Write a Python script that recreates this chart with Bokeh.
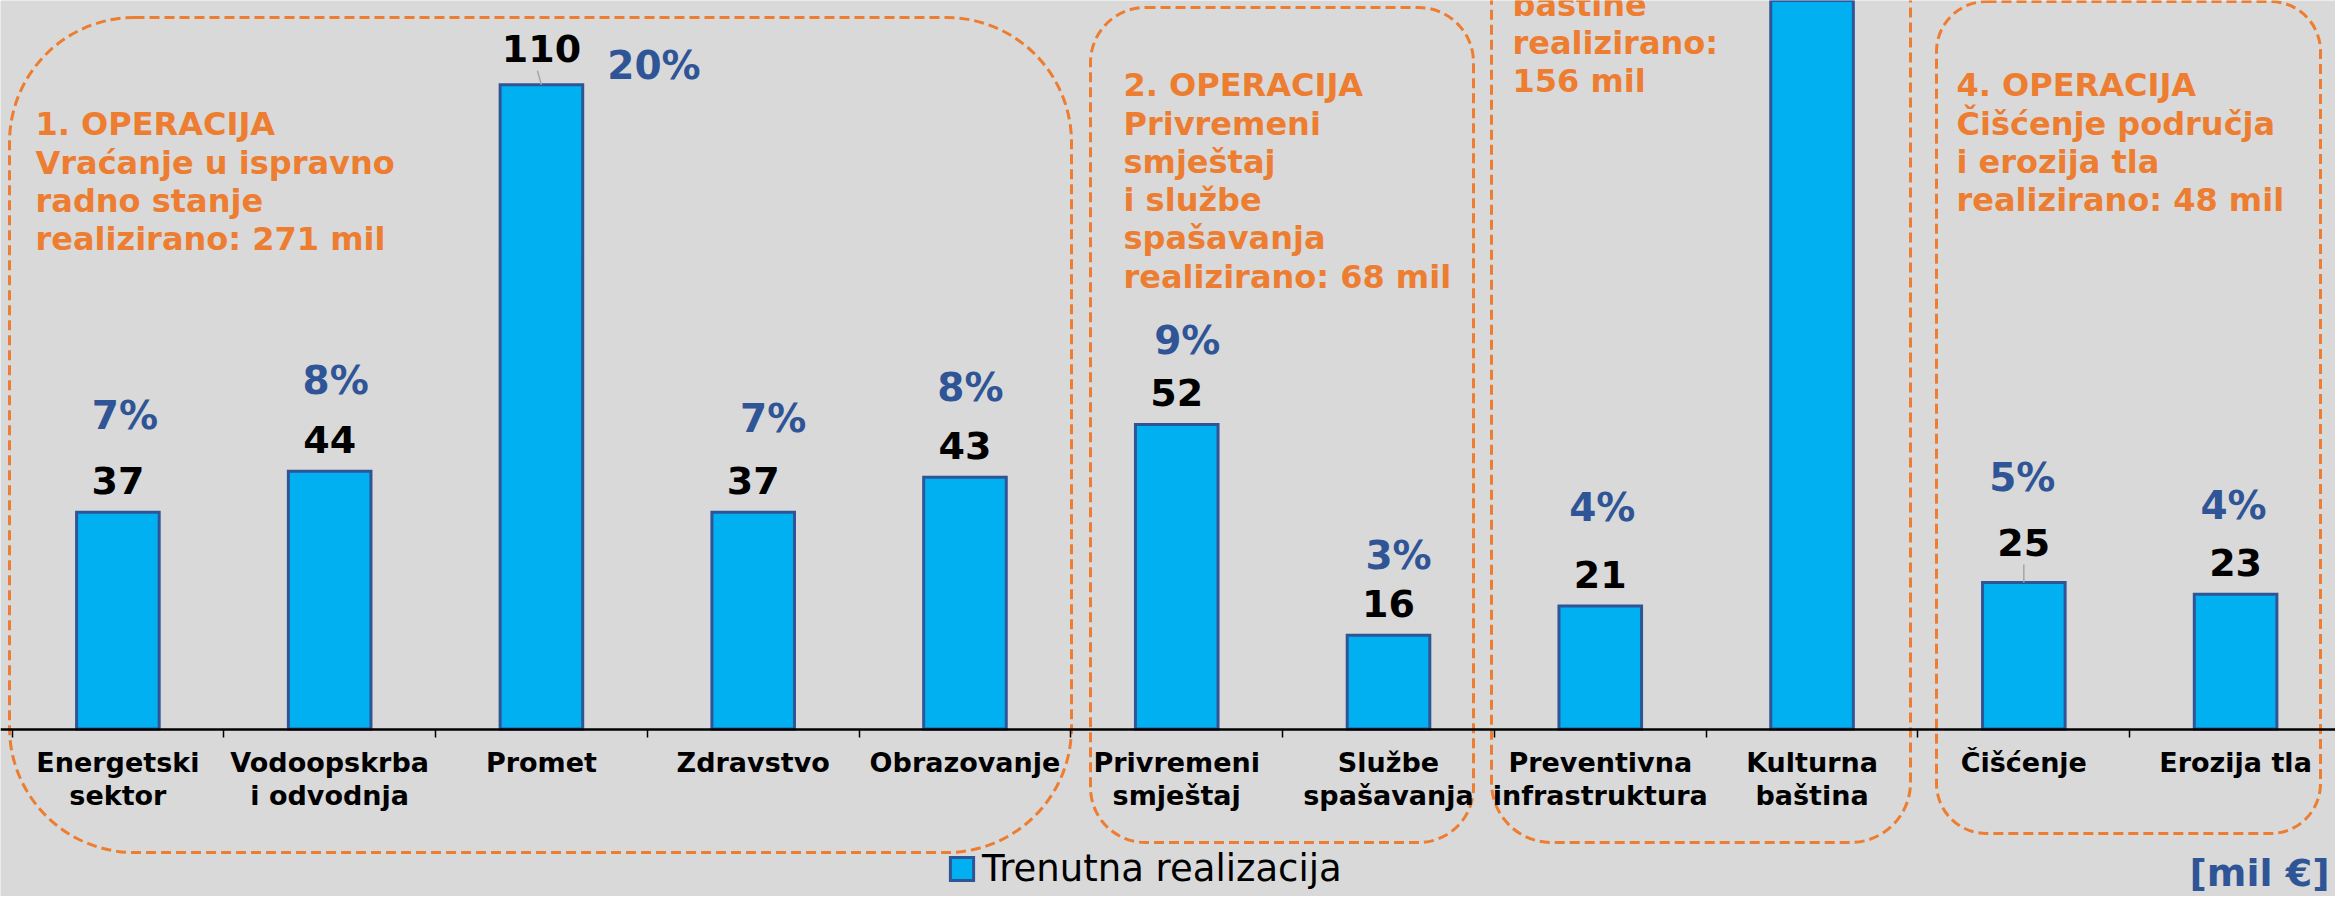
from bokeh.plotting import figure
from bokeh.models import (Range1d, LinearAxis, FixedTicker, BoxAnnotation, ColumnDataSource,
                          Legend, LegendItem, Label)
from bokeh.core.properties import value
from bokeh.embed import file_html
from bokeh.resources import INLINE

# ---------------- data ----------------
categories = ["Energetski\nsektor", "Vodoopskrba\ni odvodnja", "Promet", "Zdravstvo", "Obrazovanje",
              "Privremeni\nsmještaj", "Službe\nspašavanja", "Preventivna\ninfrastruktura",
              "Kulturna\nbaština", "Čišćenje", "Erozija tla"]
values = [37, 44, 110, 37, 43, 52, 16, 21, 135, 25, 23]
shares = ["7%", "8%", "20%", "7%", "8%", "9%", "3%", "4%", "25%", "5%", "4%"]
series_name = "Trenutna realizacija"
unit_label = "[mil €]"
group_notes = [
    ["1. OPERACIJA", "Vraćanje u ispravno", "radno stanje", "realizirano: 271 mil"],
    ["2. OPERACIJA", "Privremeni", "smještaj", "i službe", "spašavanja", "realizirano: 68 mil"],
    ["baštine", "realizirano:", "156 mil"],
    ["4. OPERACIJA", "Čišćenje područja", "i erozija tla", "realizirano: 48 mil"],
]

# ---------------- layout / style ----------------
W, H = 2335, 896
PX_PER_CAT = 211.77
PX_PER_UNIT = 5.857
AXIS_Y_PX = 728.5
X0_PX = 11.5
TEXT_DY = 12          # baseline correction (px) for text glyphs

BG = "#D9D9D9"
BAR_FILL = "#00B0F0"
BAR_LINE = "#2F5597"
ORANGE = "#ED7D31"
BLUE_TXT = "#2F5597"
FONT = "DejaVu Sans"


def xd(px):
    return (px - X0_PX) / PX_PER_CAT


def yd(px):
    return (AXIS_Y_PX - px) / PX_PER_UNIT


n = len(categories)
centers = [i + 0.5 for i in range(n)]

p = figure(width=W, height=H, output_backend="svg", toolbar_location=None,
           x_range=Range1d(xd(0), xd(W)), y_range=Range1d(yd(H), yd(0)),
           x_axis_type=None, y_axis_type=None, min_border=0,
           background_fill_color=BG, border_fill_color=BG, outline_line_color=None)
p.grid.visible = False

# bars
src = ColumnDataSource(dict(x=centers, top=values))
bars = p.vbar(x="x", top="top", width=0.39, bottom=0, source=src,
              fill_color=BAR_FILL, line_color=BAR_LINE, line_width=3, line_join="miter")

# x axis at y = 0
xaxis = LinearAxis(fixed_location=0,
                   ticker=FixedTicker(ticks=centers, minor_ticks=list(range(n + 1))),
                   major_label_overrides={c: lab for c, lab in zip(centers, categories)})
xaxis.axis_line_color = "black"
xaxis.axis_line_width = 2.5
xaxis.major_tick_line_color = None
xaxis.major_tick_in = 0
xaxis.major_tick_out = 0
xaxis.minor_tick_line_color = "black"
xaxis.minor_tick_line_width = 1.5
xaxis.minor_tick_in = 0
xaxis.minor_tick_out = 8
xaxis.major_label_standoff = 10
xaxis.major_label_text_font = FONT
xaxis.major_label_text_font_style = "bold"
xaxis.major_label_text_font_size = "27px"
xaxis.major_label_text_color = "black"
xaxis.major_label_text_line_height = 1.05
p.add_layout(xaxis, "below")

# group frames (px: left, right, top, bottom, corner radius)
group_boxes = [(9, 1071, 17, 852, 125), (1090, 1473, 7, 842, 55),
               (1491, 1910, -200, 842, 60), (1936, 2320, 1, 833, 50)]
for (l, r, t, b, rad) in group_boxes:
    p.add_layout(BoxAnnotation(left=xd(l), right=xd(r), top=yd(t), bottom=yd(b),
                               fill_color=None, fill_alpha=0, line_color=ORANGE,
                               line_alpha=1.0, line_width=3, line_dash="10 5",
                               border_radius=rad, level="underlay"))

# group notes
note_pos = [(35, 135.7), (1123, 96.7), (1512, 16.0), (1956, 96.7)]
NOTE_STEP = 38.3
nx, ny, nt = [], [], []
for (gx, gy), lines in zip(note_pos, group_notes):
    for k, line in enumerate(lines):
        nx.append(xd(gx))
        ny.append(yd(gy + k * NOTE_STEP - TEXT_DY))
        nt.append(line)
p.text(x=nx, y=ny, text=nt, text_align="left", text_baseline="alphabetic",
       text_font=value(FONT), text_font_style="bold", text_font_size="32px",
       text_color=ORANGE)

# value labels
val_gap = {2: 24, 9: 28}
vx, vy, vt = [], [], []
for i, v in enumerate(values):
    y = v + (val_gap.get(i, 20) + TEXT_DY) / PX_PER_UNIT
    if y < yd(30):
        vx.append(centers[i]); vy.append(y); vt.append(str(v))
p.text(x=vx, y=vy, text=vt, text_align="center", text_baseline="alphabetic",
       text_font=value(FONT), text_font_style="bold", text_font_size="38px",
       text_color="black")

# leader lines
lx0, ly0, lx1, ly1 = [], [], [], []
for i in (2, 9):
    lx0.append(centers[i] - 4 / PX_PER_CAT if i == 2 else centers[i])
    lx1.append(centers[i])
    ly0.append(values[i] + (val_gap[i] - 10) / PX_PER_UNIT)
    ly1.append(values[i])
p.segment(x0=lx0, y0=ly0, x1=lx1, y1=ly1, line_color="#A6A6A6", line_width=1.5)

# share labels (dx px, dy px above bar top)
share_off = [(7, 84.5), (6, 79), (112.5, 7), (20, 82), (5.5, 77.6), (10.5, 71.7),
             (10, 67.5), (2, 87), (0, 80), (-1.5, 93), (-2, 76.5)]
sx, sy, st = [], [], []
for i, (v, s) in enumerate(zip(values, shares)):
    dx, dy = share_off[i]
    y = v + (dy + TEXT_DY) / PX_PER_UNIT
    if y < yd(30):
        sx.append(centers[i] + dx / PX_PER_CAT); sy.append(y); st.append(s)
p.text(x=sx, y=sy, text=st, text_align="center", text_baseline="alphabetic",
       text_font=value(FONT), text_font_style="bold", text_font_size="39px",
       text_color=BLUE_TXT)

# unit label
p.add_layout(Label(x=xd(2329), y=yd(884 - TEXT_DY), text=unit_label, text_align="right",
                   text_baseline="alphabetic", text_font=FONT, text_font_style="bold",
                   text_font_size="38px", text_color=BLUE_TXT))

# legend
legend = Legend(items=[LegendItem(label=series_name, renderers=[bars])],
                location=(947, 6), orientation="horizontal",
                glyph_width=29, glyph_height=29, label_standoff=6,
                padding=0, margin=0, spacing=0,
                background_fill_alpha=0, border_line_color=None,
                label_text_font=FONT, label_text_font_size="37px",
                label_text_color="black", label_text_baseline="middle")
p.add_layout(legend)

open("out.html", "w").write(file_html(p, INLINE))
